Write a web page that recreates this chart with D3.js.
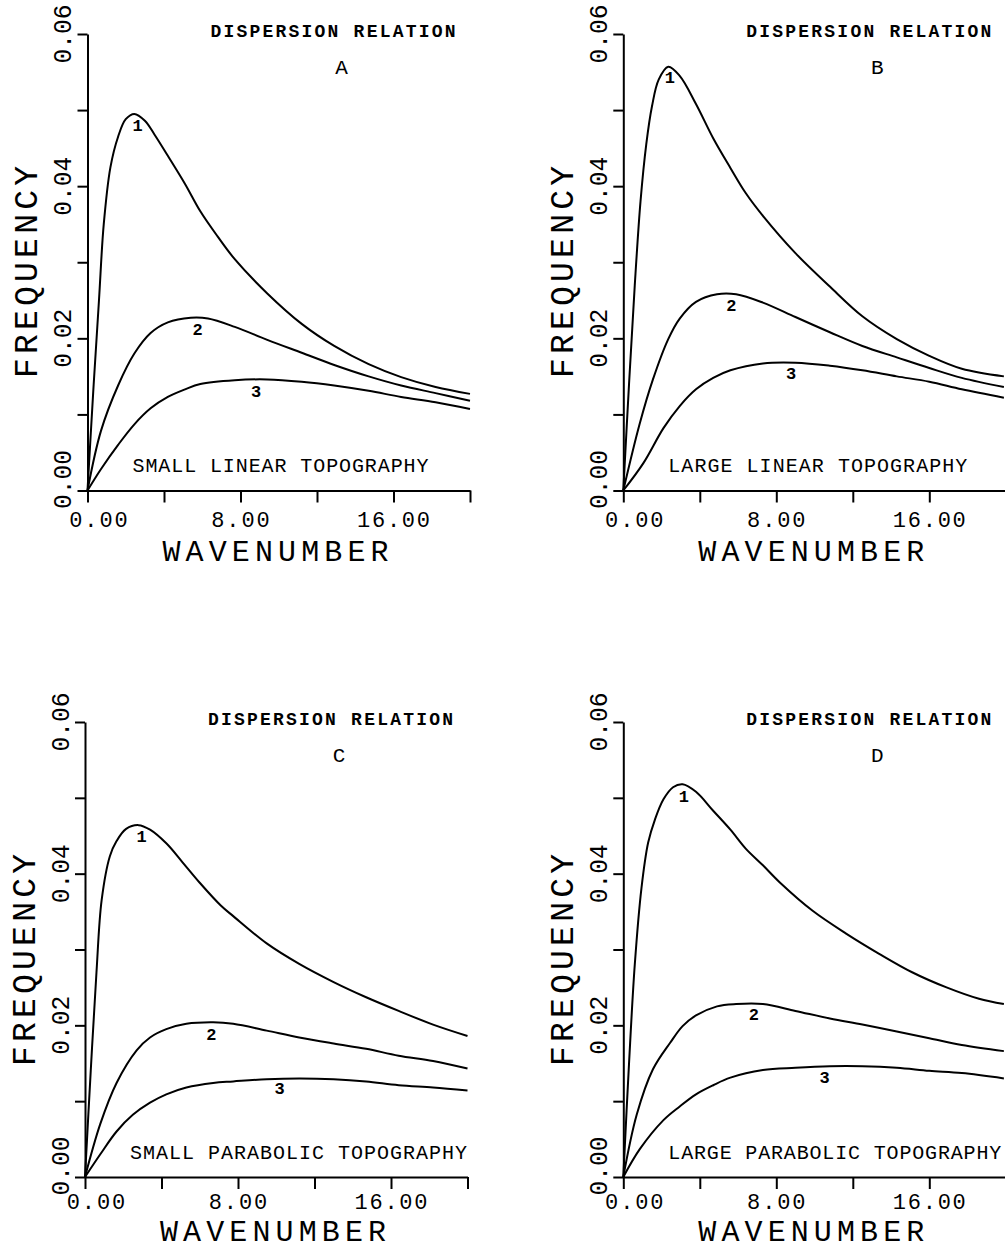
<!DOCTYPE html>
<html>
<head>
<meta charset="utf-8">
<script src="https://cdn.jsdelivr.net/npm/d3@7"></script>
<style>
body { margin: 0; background: #fff; }
svg { display: block; }
text { font-family: "Liberation Mono", "DejaVu Sans Mono", monospace; fill: #000; }
</style>
</head>
<body>
<svg id="chart" width="1005" height="1252"></svg>
<script>
// ---- data (wavenumber, frequency) ----
const panelLetters = ["A", "B", "C", "D"];
const panelNotes = ["SMALL LINEAR TOPOGRAPHY", "LARGE LINEAR TOPOGRAPHY",
                    "SMALL PARABOLIC TOPOGRAPHY", "LARGE PARABOLIC TOPOGRAPHY"];
const titleText = "DISPERSION  RELATION";
const xTicks = [0, 4, 8, 12, 16, 20];
const xTickLabels = ["0.00", "", "8.00", "", "16.00", ""];
const yTicks = [0, 0.01, 0.02, 0.03, 0.04, 0.05, 0.06];
const yTickLabels = ["0.00", "", "0.02", "", "0.04", "", "0.06"];

const modeA1 = [[0,0],[0.3,0.013],[0.6,0.025],[0.85,0.035],[1.2,0.0425],[1.6,0.0465],[2.0,0.0488],[2.45,0.0495],
  [3.0,0.0486],[3.5,0.0468],[4.2,0.0440],[5.1,0.0403],[5.9,0.0367],[6.8,0.0334],[7.7,0.0304],[9.4,0.0259],
  [11.2,0.0219],[12.9,0.0190],[14.7,0.0166],[16.4,0.0149],[18.2,0.0136],[20,0.0127]];
const modeA2 = [[0,0],[0.7,0.0078],[1.6,0.0138],[2.45,0.0180],[3.3,0.0207],[4.2,0.0221],[5.4,0.0227],[6.3,0.0226],
  [7.7,0.0215],[9.4,0.0198],[11.2,0.0181],[12.9,0.0165],[14.7,0.0150],[16.4,0.0138],[18.2,0.0128],[20,0.0118]];
const modeA3 = [[0,0],[0.7,0.0028],[1.6,0.0060],[2.45,0.0087],[3.3,0.0108],[4.2,0.0123],[5.1,0.0133],[5.9,0.0140],
  [7.7,0.0145],[9.4,0.0146],[11.2,0.0143],[12.9,0.0138],[14.7,0.0131],[16.4,0.0123],[18.2,0.0116],[20,0.0107]];

const modeB1 = [[0,0],[0.3,0.014],[0.6,0.027],[0.9,0.038],[1.2,0.0455],[1.5,0.0505],[1.85,0.0540],[2.35,0.0557],
  [2.95,0.0545],[3.8,0.0508],[4.7,0.0463],[5.6,0.0424],[6.4,0.0391],[7.3,0.0361],[9.0,0.0312],[10.8,0.0268],
  [12.5,0.0229],[14.3,0.0199],[16.0,0.0177],[17.7,0.0160],[19.9,0.0150]];
const modeB2 = [[0,0],[0.85,0.0087],[1.55,0.0146],[2.35,0.0199],[2.95,0.0226],[3.8,0.0248],[4.9,0.0258],[5.9,0.0258],
  [7.3,0.0247],[9.0,0.0228],[10.8,0.0208],[12.5,0.0190],[14.3,0.0175],[16.0,0.0161],[17.7,0.0148],[19.9,0.0136]];
const modeB3 = [[0,0],[1.05,0.0036],[2.1,0.0082],[2.95,0.0111],[3.8,0.0133],[4.7,0.0148],[5.6,0.0158],[7.3,0.0167],
  [9.0,0.0168],[10.8,0.0164],[12.5,0.0158],[14.3,0.0150],[16.0,0.0143],[17.7,0.0133],[19.9,0.0122]];

const modeC1 = [[0,0],[0.3,0.014],[0.6,0.027],[0.87,0.0365],[1.3,0.0423],[1.65,0.0443],[2.15,0.0459],[2.8,0.0464],
  [3.4,0.0458],[4.25,0.0440],[5.1,0.0415],[6.0,0.0388],[7.1,0.0358],[7.75,0.0344],[9.5,0.0308],[11.2,0.0281],
  [13.0,0.0257],[14.7,0.0237],[16.4,0.0219],[18.2,0.0201],[20,0.0186]];
const modeC2 = [[0,0],[0.8,0.0070],[1.65,0.0124],[2.7,0.0167],[3.4,0.0184],[4.25,0.0195],[5.3,0.0202],[6.7,0.0204],
  [7.75,0.0202],[9.5,0.0193],[11.2,0.0184],[13.0,0.0176],[14.7,0.0169],[16.4,0.0160],[18.2,0.0153],[20,0.0143]];
const modeC3 = [[0,0],[0.8,0.0030],[1.65,0.0060],[2.5,0.0082],[3.4,0.0098],[4.25,0.0109],[5.3,0.0118],[6.7,0.0124],
  [7.75,0.0126],[9.5,0.0129],[11.2,0.0130],[13.0,0.0129],[14.7,0.0126],[16.4,0.0121],[18.2,0.0118],[20,0.0114]];

const modeD1 = [[0,0],[0.3,0.015],[0.6,0.028],[0.95,0.0381],[1.3,0.0441],[1.65,0.0471],[2.1,0.0498],[2.6,0.0514],
  [3.1,0.0518],[3.8,0.0508],[4.7,0.0483],[5.6,0.0458],[6.4,0.0433],[7.3,0.0411],[8.2,0.0388],[9.9,0.0351],
  [11.65,0.0321],[13.4,0.0294],[15.1,0.0270],[16.9,0.0250],[18.6,0.0235],[19.9,0.0228]];
const modeD2 = [[0,0],[0.7,0.0082],[1.55,0.0142],[2.45,0.0177],[3.1,0.0199],[3.8,0.0213],[4.9,0.0225],[5.9,0.0228],
  [7.3,0.0228],[9.0,0.0219],[10.8,0.0209],[12.5,0.0201],[14.3,0.0192],[16.0,0.0183],[17.7,0.0174],[19.9,0.0166]];
const modeD3 = [[0,0],[0.87,0.0037],[2.1,0.0075],[2.95,0.0093],[3.8,0.0109],[4.7,0.0121],[5.6,0.0131],[7.3,0.0141],
  [9.0,0.0144],[10.8,0.0146],[12.5,0.0146],[14.3,0.0144],[16.0,0.0140],[17.7,0.0137],[19.9,0.0130]];

// where the mode numbers 1,2,3 sit (data coordinates of their baseline)
const modeLabelsA = [[2.62,0.0472],[5.76,0.0204],[8.82,0.0123]];
const modeLabelsB = [[2.43,0.0536],[5.65,0.0236],[8.78,0.0146]];
const modeLabelsC = [[2.96,0.0442],[6.61,0.0181],[10.17,0.0109]];
const modeLabelsD = [[3.17,0.0495],[6.82,0.0207],[10.52,0.0124]];

const curves = [[modeA1, modeA2, modeA3], [modeB1, modeB2, modeB3],
                [modeC1, modeC2, modeC3], [modeD1, modeD2, modeD3]];
const modeLabels = [modeLabelsA, modeLabelsB, modeLabelsC, modeLabelsD];

// ---- layout ----
const plotW = 382.5;
const frames = [
  {left: 87.5,  top: 34,  bottom: 490.5, noteLen: 296, tickGap: 36.5, xTitleGap: 70},
  {left: 623.3, top: 34,  bottom: 490.5, noteLen: 299, tickGap: 36.5, xTitleGap: 70},
  {left: 85,    top: 722, bottom: 1177,  noteLen: 337, tickGap: 32,   xTitleGap: 64},
  {left: 623.3, top: 722, bottom: 1177,  noteLen: 333, tickGap: 32,   xTitleGap: 64}
];

const svg = d3.select("#chart");

frames.forEach(function(f, p) {
  const x = d3.scaleLinear().domain([0, 20]).range([f.left, f.left + plotW]);
  const y = d3.scaleLinear().domain([0, 0.06]).range([f.bottom, f.top]);
  const g = svg.append("g");

  // axes
  g.append("g")
    .attr("transform", "translate(0," + f.bottom + ")")
    .call(d3.axisBottom(x).tickValues(xTicks).tickSize(12).tickSizeOuter(0).tickFormat(""));
  g.append("g")
    .attr("transform", "translate(" + f.left + ",0)")
    .call(d3.axisLeft(y).tickValues(yTicks).tickSize(10).tickSizeOuter(0).tickFormat(""));
  g.selectAll(".domain, .tick line").attr("stroke", "#000").attr("stroke-width", 2);

  // x tick labels
  g.selectAll(".xlab")
    .data(xTicks.filter((d, i) => xTickLabels[i] !== ""))
    .enter().append("text")
    .attr("x", d => x(d) + (d === 0 ? 11 : 0))
    .attr("y", f.bottom + f.tickGap)
    .attr("text-anchor", "middle")
    .attr("font-size", 22)
    .attr("textLength", d => xTickLabels[xTicks.indexOf(d)].length * 14.6)
    .attr("lengthAdjust", "spacing")
    .text(d => xTickLabels[xTicks.indexOf(d)]);

  // y tick labels (rotated)
  g.selectAll(".ylab")
    .data(yTicks.filter((d, i) => yTickLabels[i] !== ""))
    .enter().append("text")
    .attr("transform", d => "translate(" + (f.left - 16.5) + "," + (y(d) - (d === 0 ? 11 : 0)) + ") rotate(-90)")
    .attr("text-anchor", "middle")
    .attr("font-size", 26)
    .attr("textLength", 59)
    .attr("lengthAdjust", "spacingAndGlyphs")
    .text(d => yTickLabels[yTicks.indexOf(d)]);

  // axis titles
  g.append("text")
    .attr("transform", "translate(" + (f.left - 50.5) + "," + (f.top + 238) + ") rotate(-90)")
    .attr("text-anchor", "middle")
    .attr("font-size", 33)
    .attr("textLength", 212)
    .attr("lengthAdjust", "spacing")
    .text("FREQUENCY");
  g.append("text")
    .attr("x", f.left + 188)
    .attr("y", f.bottom + f.xTitleGap)
    .attr("text-anchor", "middle")
    .attr("font-size", 30)
    .attr("textLength", 226)
    .attr("lengthAdjust", "spacing")
    .text("WAVENUMBER");

  // panel titles
  g.append("text")
    .attr("x", f.left + 123)
    .attr("y", f.top + 3)
    .attr("font-size", 18)
    .attr("font-weight", "bold")
    .attr("textLength", 245)
    .attr("lengthAdjust", "spacing")
    .text(titleText);
  g.append("text")
    .attr("x", f.left + 254)
    .attr("y", f.top + 40)
    .attr("text-anchor", "middle")
    .attr("font-size", 21)
    .text(panelLetters[p]);
  g.append("text")
    .attr("x", f.left + 45)
    .attr("y", f.bottom - 18.5)
    .attr("font-size", 20)
    .attr("textLength", f.noteLen)
    .attr("lengthAdjust", "spacing")
    .text(panelNotes[p]);

  // curves
  const line = d3.line()
    .x(d => x(d[0]))
    .y(d => y(d[1]))
    .curve(d3.curveCatmullRom.alpha(0.5));
  g.selectAll(".mode")
    .data(curves[p])
    .enter().append("path")
    .attr("d", line)
    .attr("fill", "none")
    .attr("stroke", "#000")
    .attr("stroke-width", 2);

  g.selectAll(".modelab")
    .data(modeLabels[p])
    .enter().append("text")
    .attr("x", d => x(d[0]))
    .attr("y", d => y(d[1]))
    .attr("text-anchor", "middle")
    .attr("font-size", 17)
    .attr("font-weight", "bold")
    .text((d, i) => String(i + 1));
});
</script>
</body>
</html>
